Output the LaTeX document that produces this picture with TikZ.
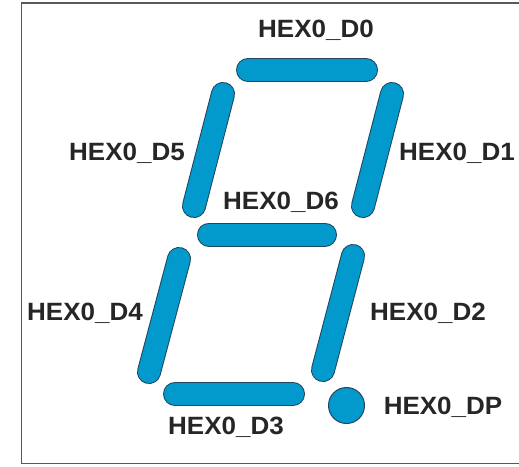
\documentclass[tikz,border=0pt]{standalone}
\usepackage{fontspec}
\setmainfont{Liberation Sans}
\definecolor{segblue}{RGB}{2,153,204}
\definecolor{segedge}{RGB}{30,70,95}
\tikzset{
  seg/.style={line cap=round, line width=24pt, draw=segedge},
  segfill/.style={line cap=round, line width=22pt, draw=segblue},
  lbl/.style={font=\fontsize{25}{30}\selectfont\bfseries, text=black!85, inner sep=0pt, xscale=1.04},
  frame/.style={draw=black!65, line width=1.6pt}
}
\begin{document}
\begin{tikzpicture}[x=1pt,y=-1pt]
\useasboundingbox (0,0) rectangle (519,466);
\draw[frame] (519,3) -- (21.5,3) -- (21.5,463.5) -- (519,463.5);
% segment end coordinates
\coordinate (a1) at (248,70);  \coordinate (a2) at (366,70);
\coordinate (b1) at (392,94);  \coordinate (b2) at (363,206);
\coordinate (c1) at (353,256); \coordinate (c2) at (323,370);
\coordinate (d1) at (175,394); \coordinate (d2) at (293,394);
\coordinate (e1) at (179,259); \coordinate (e2) at (149,372);
\coordinate (f1) at (223,94);  \coordinate (f2) at (194,206);
\coordinate (g1) at (209,234.5); \coordinate (g2) at (325,234.5);
\foreach \p/\q in {a1/a2,b1/b2,c1/c2,d1/d2,e1/e2,f1/f2,g1/g2}{
  \draw[seg] (\p) -- (\q);
  \draw[segfill] (\p) -- (\q);
}
\node[circle, minimum size=36pt, inner sep=0pt, fill=segblue, draw=segedge, line width=1pt] (dp) at (346.5,405.5) {};
% labels
\node[lbl] (l0) at (316,30) {HEX0\_D0};
\node[lbl] (l1) at (457,153) {HEX0\_D1};
\node[lbl] (l2) at (428,313) {HEX0\_D2};
\node[lbl] (l3) at (226,427) {HEX0\_D3};
\node[lbl] (l4) at (85,313) {HEX0\_D4};
\node[lbl] (l5) at (127,153) {HEX0\_D5};
\node[lbl] (l6) at (281,202) {HEX0\_D6};
\node[lbl] (lp) at (443,407) {HEX0\_DP};
\end{tikzpicture}
\end{document}
